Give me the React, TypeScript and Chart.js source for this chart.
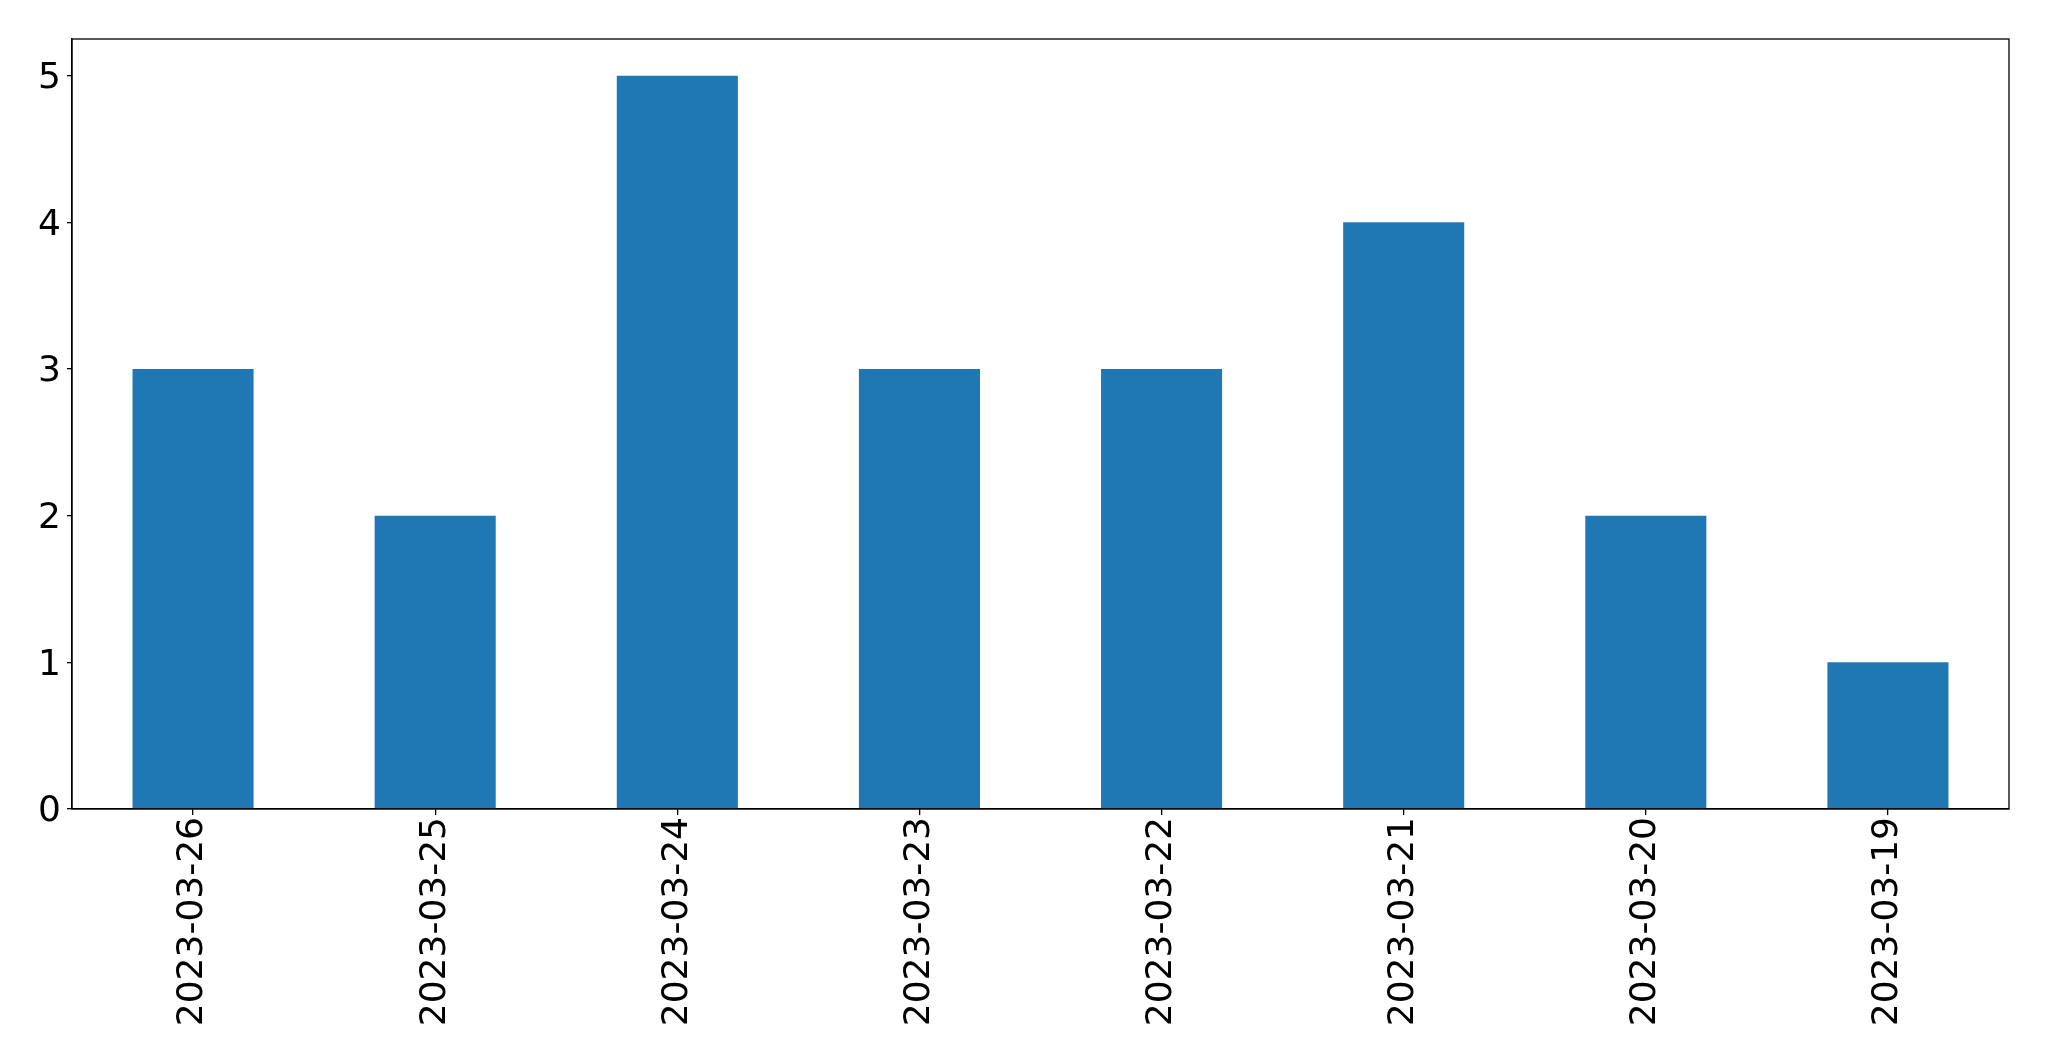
import React, { useEffect, useRef } from "react";
import { Chart, registerables } from "chart.js";

Chart.register(...registerables);

const categories = [
  "2023-03-26",
  "2023-03-25",
  "2023-03-24",
  "2023-03-23",
  "2023-03-22",
  "2023-03-21",
  "2023-03-20",
  "2023-03-19",
];
const counts = [3, 2, 5, 3, 3, 4, 2, 1];
const yTicks = [0, 1, 2, 3, 4, 5];

const W = 2049;
const H = 1061;

const frame = {
  id: "frame",
  afterDraw(chart: any) {
    const { ctx, chartArea } = chart;
    ctx.save();
    ctx.strokeStyle = "#000";
    ctx.lineWidth = 1.3;
    ctx.strokeRect(chartArea.left, chartArea.top, chartArea.right - chartArea.left, chartArea.bottom - chartArea.top);
    ctx.restore();
  },
};

export default function App() {
  const ref = useRef<HTMLCanvasElement | null>(null);
  useEffect(() => {
    document.body.style.margin = "0";
    const font = { family: "DejaVu Sans", size: 36 };
    const chart = new Chart(ref.current!, {
      type: "bar",
      data: {
        labels: categories,
        datasets: [
          {
            data: counts,
            backgroundColor: "#1f77b4",
            categoryPercentage: 1,
            barPercentage: 0.5,
          },
        ],
      },
      options: {
        animation: false,
        responsive: false,
        devicePixelRatio: 1,
        layout: { padding: { left: 0, top: 39, right: 40, bottom: 0 } },
        plugins: { legend: { display: false }, tooltip: { enabled: false } },
        scales: {
          x: {
            afterFit: (s: any) => {
              s.height = 252;
            },
            grid: { offset: false, drawOnChartArea: false, drawTicks: true, tickLength: 6, color: "#000", lineWidth: 1.3 },
            border: { display: true, color: "#000", width: 1.3 },
            ticks: { color: "#000", font, minRotation: 90, maxRotation: 90, padding: 2, autoSkip: false },
          },
          y: {
            min: 0,
            max: 5.25,
            afterFit: (s: any) => {
              s.width = 72;
            },
            afterBuildTicks: (s: any) => {
              s.ticks = yTicks.map((v) => ({ value: v }));
            },
            grid: { drawOnChartArea: false, drawTicks: true, tickLength: 5, color: "#000", lineWidth: 1.3 },
            border: { display: true, color: "#000", width: 1.3 },
            ticks: { color: "#000", font, padding: 6, labelOffset: 3 },
          },
        },
      },
      plugins: [frame],
    });
    return () => chart.destroy();
  }, []);
  return (
    <div style={{ position: "absolute", left: 0, top: 0, width: W, height: H, background: "#fff" }}>
      <canvas ref={ref} width={W} height={H} style={{ width: W, height: H, display: "block" }} />
    </div>
  );
}
